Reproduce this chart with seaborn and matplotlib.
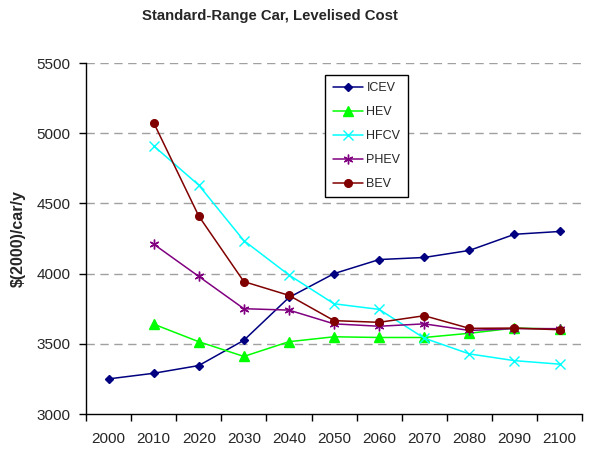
import matplotlib
matplotlib.use("Agg")
import matplotlib.pyplot as plt
import seaborn as sns
import numpy as np
import pandas as pd

years = [2000, 2010, 2020, 2030, 2040, 2050, 2060, 2070, 2080, 2090, 2100]
nan = np.nan

icev = [3250, 3290, 3345, 3525, 3830, 4000, 4100, 4115, 4165, 4280, 4300]
hev = [nan, 3640, 3515, 3410, 3515, 3550, 3545, 3545, 3575, 3612, 3605]
hfcv = [nan, 4910, 4630, 4235, 3990, 3785, 3745, 3540, 3428, 3380, 3355]
phev = [nan, 4210, 3980, 3750, 3740, 3642, 3625, 3642, 3595, 3608, 3608]
bev = [nan, 5075, 4410, 3943, 3845, 3665, 3653, 3700, 3610, 3612, 3600]

series = ["ICEV", "HEV", "HFCV", "PHEV", "BEV"]
values = [icev, hev, hfcv, phev, bev]
colors = ["#000080", "#00ff00", "#00ffff", "#800080", "#800000"]
markers = ["D", "^", "x", (6, 2, 0), "o"]
msizes = [4.5, 6.5, 6.5, 7, 5.5]

df = pd.DataFrame({"year": years})
for name, vals in zip(series, values):
    df[name] = vals

sns.set_style("white")
plt.rcParams["font.family"] = ["Liberation Sans", "DejaVu Sans"]

fig = plt.figure(figsize=(5.91, 4.5), dpi=100)
ax = fig.add_axes([0.1455, 0.08, 0.8395, 0.78])

for name, col, mk, ms in zip(series, colors, markers, msizes):
    sns.lineplot(data=df, x="year", y=name, ax=ax, color=col, marker=mk,
                 markersize=ms, markeredgecolor=col, markerfacecolor=col,
                 markeredgewidth=1.0, linewidth=1.1, label=name)

ax.set_xlim(1995, 2105)
ax.set_ylim(3000, 5500)
ax.set_yticks(range(3000, 5501, 500))
ax.set_xticks(years)
ax.set_xticks(np.arange(1995, 2106, 10), minor=True)
ax.tick_params(axis="x", which="major", length=0, labelsize=11, pad=13)
ax.tick_params(axis="x", which="minor", length=5, width=1, color="black", direction="out", bottom=True)
ax.tick_params(axis="y", length=5, width=1, color="black", direction="out", left=True, labelsize=11, pad=6)

for v in range(3500, 5501, 500):
    ax.axhline(v, color="#a0a0a0", linestyle=(0, (6, 4)), linewidth=1, zorder=0)

for s in ["top", "right"]:
    ax.spines[s].set_visible(False)
for s in ["left", "bottom"]:
    ax.spines[s].set_color("black")
    ax.spines[s].set_linewidth(1)

ax.set_xlabel("")
ax.set_ylabel("$(2000)/car/y", fontsize=11.5, fontweight="bold", labelpad=8)
fig.text(0.457, 0.964, "Standard-Range Car, Levelised Cost", fontsize=10.7,
         fontweight="bold", ha="center", va="center")

leg = ax.legend(loc="upper left", bbox_to_anchor=(0.482, 0.966), borderaxespad=0, fontsize=9,
                frameon=True, fancybox=False, edgecolor="black", framealpha=1,
                handlelength=2.4, labelspacing=0.95, borderpad=0.6, handletextpad=0.3)
leg.get_frame().set_linewidth(1)

fig.savefig("out.png", dpi=100)
